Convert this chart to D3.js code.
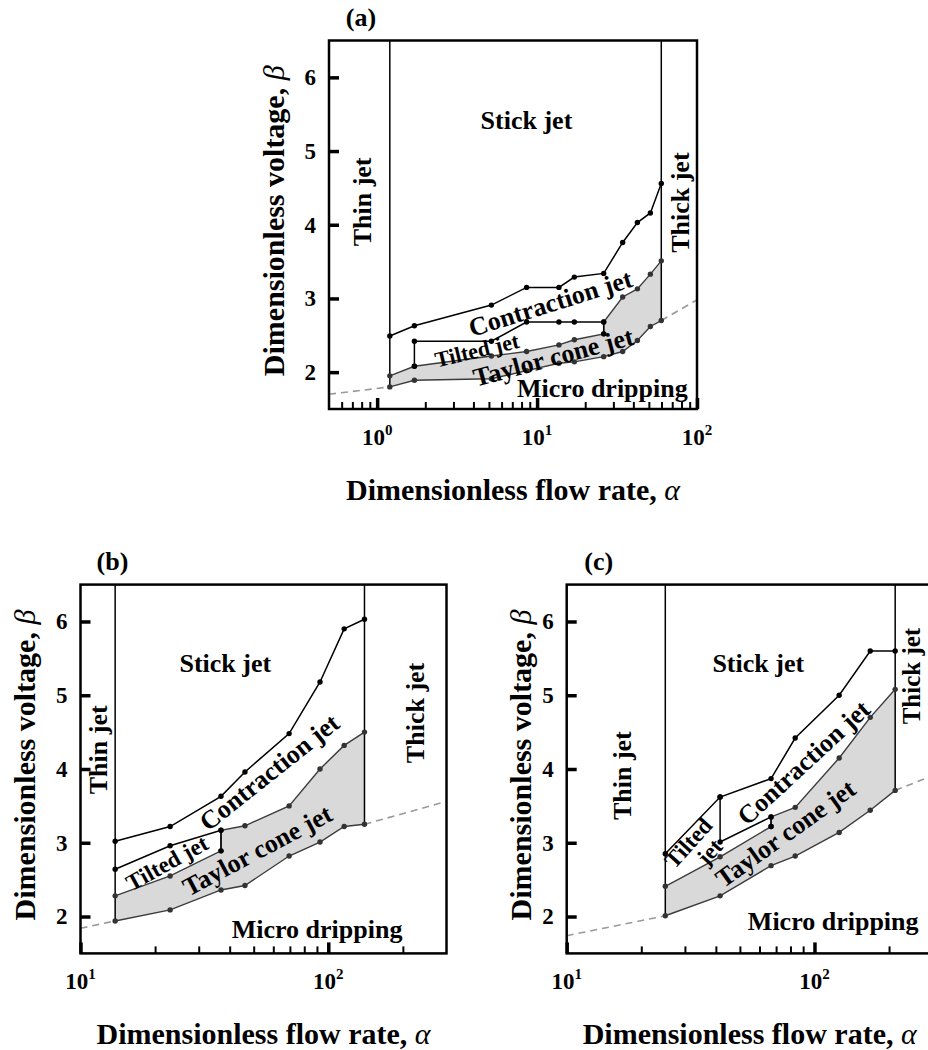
<!DOCTYPE html>
<html>
<head>
<meta charset="utf-8">
<script src="https://cdn.jsdelivr.net/npm/d3@7"></script>
<style>
  body { margin: 0; background: #fff; }
  svg text { font-family: "Liberation Serif", "Times New Roman", serif; font-weight: bold; fill: #000; }
</style>
</head>
<body>
<svg id="fig" width="928" height="1050"></svg>
<script>
// ---------- operating-mode boundaries, panel (a) ----------
const panelA_alpha    = [1.2, 1.71, 5.18, 8.6, 13.7, 17.1, 26.1, 34.3, 42.4, 51.1, 59.8];
const panelA_stick    = [2.49, 2.63, 2.91, 3.15, 3.15, 3.29, 3.34, 3.76, 4.03, 4.16, 4.56];
const panelA_dripping = [1.80, 1.89, 1.91, 2.02, 2.12, 2.14, 2.21, 2.28, 2.43, 2.62, 2.70];
const panelA_coneAlpha = [1.2, 1.71, 5.18, 8.6, 13.7, 17.1, 26.1, 26.1, 34.3, 42.4, 51.1, 59.8];
const panelA_cone      = [1.95, 2.08, 2.22, 2.28, 2.37, 2.44, 2.52, 2.68, 3.02, 3.13, 3.33, 3.51];
const panelA_tiltAlpha = [1.71, 1.71, 5.18, 8.6, 13.7, 17.1, 26.1, 26.1];
const panelA_tilt      = [2.08, 2.42, 2.42, 2.68, 2.68, 2.68, 2.68, 2.52];
const panelA_trendLowAlpha  = [0.5, 1.2];
const panelA_trendLow       = [1.70, 1.80];
const panelA_trendHighAlpha = [59.8, 100];
const panelA_trendHigh      = [2.70, 2.98];

// ---------- panel (b) ----------
const panelB_alpha    = [13.8, 23.0, 36.9, 46.1, 69.5, 92.6, 115.9, 140];
const panelB_stick    = [3.02, 3.22, 3.63, 3.96, 4.48, 5.18, 5.90, 6.03];
const panelB_dripping = [1.94, 2.09, 2.36, 2.42, 2.82, 3.01, 3.22, 3.25];
const panelB_coneAlpha = [13.8, 23.0, 36.9, 36.9, 46.1, 69.5, 92.6, 115.9, 140];
const panelB_cone      = [2.28, 2.55, 2.89, 3.17, 3.23, 3.50, 4.00, 4.32, 4.50];
const panelB_tiltAlpha = [13.8, 23.0, 36.9, 36.9];
const panelB_tilt      = [2.64, 2.96, 3.17, 2.89];
const panelB_trendLowAlpha  = [10, 13.8];
const panelB_trendLow       = [1.84, 1.94];
const panelB_trendHighAlpha = [140, 300];
const panelB_trendHigh      = [3.25, 3.56];

// ---------- panel (c) ----------
const panelC_alpha    = [25, 41.6, 66.8, 83.6, 125.8, 167.9, 211.7];
const panelC_stick    = [2.85, 3.62, 3.87, 4.42, 5.00, 5.60, 5.60];
const panelC_dripping = [2.01, 2.28, 2.69, 2.82, 3.14, 3.44, 3.71];
const panelC_coneAlpha = [25, 41.6, 66.8, 66.8, 83.6, 125.8, 167.9, 211.7];
const panelC_cone      = [2.41, 2.81, 3.22, 3.35, 3.48, 4.15, 4.70, 5.08];
const panelC_tiltAlpha = [41.6, 41.6, 66.8, 66.8];
const panelC_tilt      = [3.62, 3.01, 3.35, 3.22];
const panelC_trendLowAlpha  = [10, 25];
const panelC_trendLow       = [1.74, 2.01];
const panelC_trendHighAlpha = [211.7, 300];
const panelC_trendHigh      = [3.71, 3.91];

// ---------- axis ticks ----------
const betaDomain = [1.5, 6.5];
const betaTicks = [2, 3, 4, 5, 6];
const panelA_decades = [1, 10, 100];
const panelA_minor = [0.6, 0.7, 0.8, 0.9, 2, 3, 4, 5, 6, 7, 8, 9, 20, 30, 40, 50, 60, 70, 80, 90];
const panelBC_decades = [10, 100];
const panelBC_minor = [20, 30, 40, 50, 60, 70, 80, 90, 200];

const svg = d3.select("#fig");

const panels = [
  {
    id: "a", tag: "(a)", left: 329, top: 40.5, width: 368, height: 368.5, xDomain: [0.5, 100],
    decades: panelA_decades, minor: panelA_minor, ylabOffset: 56,
    alpha: panelA_alpha, stick: panelA_stick, dripping: panelA_dripping,
    coneAlpha: panelA_coneAlpha, cone: panelA_cone, tiltAlpha: panelA_tiltAlpha, tilt: panelA_tilt,
    trend: [[panelA_trendLowAlpha, panelA_trendLow], [panelA_trendHighAlpha, panelA_trendHigh]],
    labels: [
      { t: "Stick jet", a: 8.58, b: 5.42, r: 0, s: 26 },
      { t: "Thin jet", a: 0.80, b: 4.31, r: -90, s: 26 },
      { t: "Thick jet", a: 78.7, b: 4.30, r: -90, s: 26 },
      { t: "Contraction jet", a: 12.1, b: 2.94, r: -17.4, s: 26 },
      { t: "Tilted jet", a: 4.2, b: 2.30, r: -13.5, s: 22 },
      { t: "Taylor cone jet", a: 12.6, b: 2.21, r: -15, s: 26 },
      { t: "Micro dripping", a: 25.6, b: 1.79, r: 0, s: 26 }
    ]
  },
  {
    id: "b", tag: "(b)", left: 80.5, top: 584.6, width: 366, height: 368.8, xDomain: [10, 300],
    decades: panelBC_decades, minor: panelBC_minor, ylabOffset: 56.5,
    alpha: panelB_alpha, stick: panelB_stick, dripping: panelB_dripping,
    coneAlpha: panelB_coneAlpha, cone: panelB_cone, tiltAlpha: panelB_tiltAlpha, tilt: panelB_tilt,
    trend: [[panelB_trendLowAlpha, panelB_trendLow], [panelB_trendHighAlpha, panelB_trendHigh]],
    labels: [
      { t: "Stick jet", a: 38.4, b: 5.44, r: 0, s: 26 },
      { t: "Thin jet", a: 11.77, b: 4.26, r: -90, s: 26 },
      { t: "Thick jet", a: 224, b: 4.76, r: -90, s: 26 },
      { t: "Contraction jet", a: 57.7, b: 3.96, r: -38.5, s: 26 },
      { t: "Tilted jet", a: 22.3, b: 2.73, r: -29, s: 23 },
      { t: "Taylor cone jet", a: 51.6, b: 2.90, r: -28, s: 26 },
      { t: "Micro dripping", a: 90.1, b: 1.83, r: 0, s: 26 }
    ]
  },
  {
    id: "c", tag: "(c)", left: 566.7, top: 584.6, width: 366, height: 368.8, xDomain: [10, 300],
    decades: panelBC_decades, minor: panelBC_minor, ylabOffset: 46.7,
    alpha: panelC_alpha, stick: panelC_stick, dripping: panelC_dripping,
    coneAlpha: panelC_coneAlpha, cone: panelC_cone, tiltAlpha: panelC_tiltAlpha, tilt: panelC_tilt,
    trend: [[panelC_trendLowAlpha, panelC_trendLow], [panelC_trendHighAlpha, panelC_trendHigh]],
    labels: [
      { t: "Stick jet", a: 59.3, b: 5.44, r: 0, s: 26 },
      { t: "Thin jet", a: 16.7, b: 3.91, r: -90, s: 26 },
      { t: "Thick jet", a: 246, b: 5.26, r: -90, s: 25 },
      { t: "Contraction jet", a: 90.2, b: 4.09, r: -42.7, s: 26 },
      { t: "Tilted", a: 30.9, b: 3.00, r: -48, s: 23 },
      { t: "jet", a: 37.6, b: 2.88, r: -48, s: 23 },
      { t: "Taylor cone jet", a: 76.2, b: 3.13, r: -35.5, s: 26 },
      { t: "Micro dripping", a: 119, b: 1.94, r: 0, s: 26 }
    ]
  }
];

function drawPanel(p) {
  const g = svg.append("g");
  const x = d3.scaleLog().domain(p.xDomain).range([p.left, p.left + p.width]);
  const y = d3.scaleLinear().domain(betaDomain).range([p.top + p.height, p.top]);
  const xy = (as, bs) => as.map((a, i) => [x(a), y(bs[i])]);
  const line = d3.line();
  const bottom = p.top + p.height;

  const clipId = "clip-" + p.id;
  svg.append("clipPath").attr("id", clipId).append("rect")
    .attr("x", p.left).attr("y", p.top).attr("width", p.width).attr("height", p.height);
  const plot = g.append("g").attr("clip-path", `url(#${clipId})`);

  // dashed onset trend
  p.trend.forEach(([as, bs]) => {
    plot.append("path").attr("d", line(xy(as, bs)))
      .attr("fill", "none").attr("stroke", "#999").attr("stroke-width", 1.6)
      .attr("stroke-dasharray", "7,5");
  });

  // shaded Taylor cone jet region
  const conePts = xy(p.coneAlpha, p.cone);
  const dripPts = xy(p.alpha, p.dripping);
  plot.append("path").attr("d", line(conePts.concat(dripPts.slice().reverse())) + "Z")
    .attr("fill", "#d9d9d9").attr("stroke", "none");

  [conePts, dripPts].forEach(pts => {
    plot.append("path").attr("d", line(pts))
      .attr("fill", "none").attr("stroke", "#3c3c3c").attr("stroke-width", 1.4);
  });

  // thin / thick jet limits
  const n = p.alpha.length;
  [[p.alpha[0], p.dripping[0]], [p.alpha[n - 1], p.dripping[n - 1]]].forEach(([a, b]) => {
    plot.append("line").attr("x1", x(a)).attr("x2", x(a))
      .attr("y1", y(betaDomain[1])).attr("y2", y(b))
      .attr("stroke", "#000").attr("stroke-width", 1.5);
  });

  const stickPts = xy(p.alpha, p.stick);
  const tiltPts = xy(p.tiltAlpha, p.tilt);
  [stickPts, tiltPts].forEach(pts => {
    plot.append("path").attr("d", line(pts))
      .attr("fill", "none").attr("stroke", "#000").attr("stroke-width", 1.5);
  });

  // measured points
  [[conePts, "#333"], [dripPts, "#333"], [stickPts, "#000"], [tiltPts, "#000"]].forEach(([pts, c]) => {
    plot.selectAll(null).data(pts).join("circle")
      .attr("cx", d => d[0]).attr("cy", d => d[1]).attr("r", 2.7).attr("fill", c);
  });

  // region names
  p.labels.forEach(l => {
    g.append("text")
      .attr("transform", `translate(${x(l.a)},${y(l.b)}) rotate(${l.r})`)
      .attr("text-anchor", "middle").attr("dy", "0.35em")
      .attr("font-size", l.s).text(l.t);
  });

  // x ticks pointing inward: minor and decade
  const minorAxis = g.append("g").attr("transform", `translate(0,${bottom})`)
    .call(d3.axisBottom(x).tickValues(p.minor).tickSizeInner(-7).tickSizeOuter(0).tickFormat(""));
  minorAxis.select(".domain").remove();
  minorAxis.selectAll(".tick line").attr("stroke", "#000").attr("stroke-width", 2);

  const majorAxis = g.append("g").attr("transform", `translate(0,${bottom})`)
    .call(d3.axisBottom(x).tickValues(p.decades).tickSizeInner(-11).tickSizeOuter(0).tickFormat(""));
  majorAxis.select(".domain").remove();
  majorAxis.selectAll(".tick line").attr("stroke", "#000").attr("stroke-width", 3.5);

  p.decades.forEach(v => {
    const t = g.append("text").attr("x", x(v)).attr("y", bottom + 36)
      .attr("text-anchor", "middle").attr("font-size", 23).text("10");
    t.append("tspan").attr("dy", -10).attr("font-size", 15).text(Math.round(Math.log10(v)));
  });

  // y axis
  const yAxis = g.append("g").attr("transform", `translate(${p.left},0)`)
    .call(d3.axisLeft(y).tickValues(betaTicks).tickFormat(d3.format("d"))
      .tickSizeInner(-10).tickSizeOuter(0).tickPadding(13));
  yAxis.select(".domain").remove();
  yAxis.selectAll(".tick line").attr("stroke", "#000").attr("stroke-width", 3.5);
  yAxis.selectAll("text").attr("font-size", 23).attr("fill", "#000");

  // frame
  g.append("rect").attr("x", p.left).attr("y", p.top).attr("width", p.width).attr("height", p.height)
    .attr("fill", "none").attr("stroke", "#000").attr("stroke-width", 2.5);

  // titles
  const xl = g.append("text").attr("x", p.left + p.width / 2).attr("y", bottom + 91)
    .attr("text-anchor", "middle").attr("font-size", 30).text("Dimensionless flow rate, ");
  xl.append("tspan").attr("font-style", "italic").attr("font-weight", "normal").text("α");

  const yl = g.append("text")
    .attr("transform", `translate(${p.left - p.ylabOffset},${p.top + p.height / 2 - 4}) rotate(-90)`)
    .attr("text-anchor", "middle").attr("dy", "0.35em").attr("font-size", 30)
    .text("Dimensionless voltage, ");
  yl.append("tspan").attr("font-style", "italic").attr("font-weight", "normal").text("β");

  g.append("text").attr("x", p.left + 32).attr("y", p.top - 15)
    .attr("text-anchor", "middle").attr("font-size", 26).text(p.tag);
}

panels.forEach(drawPanel);
</script>
</body>
</html>
